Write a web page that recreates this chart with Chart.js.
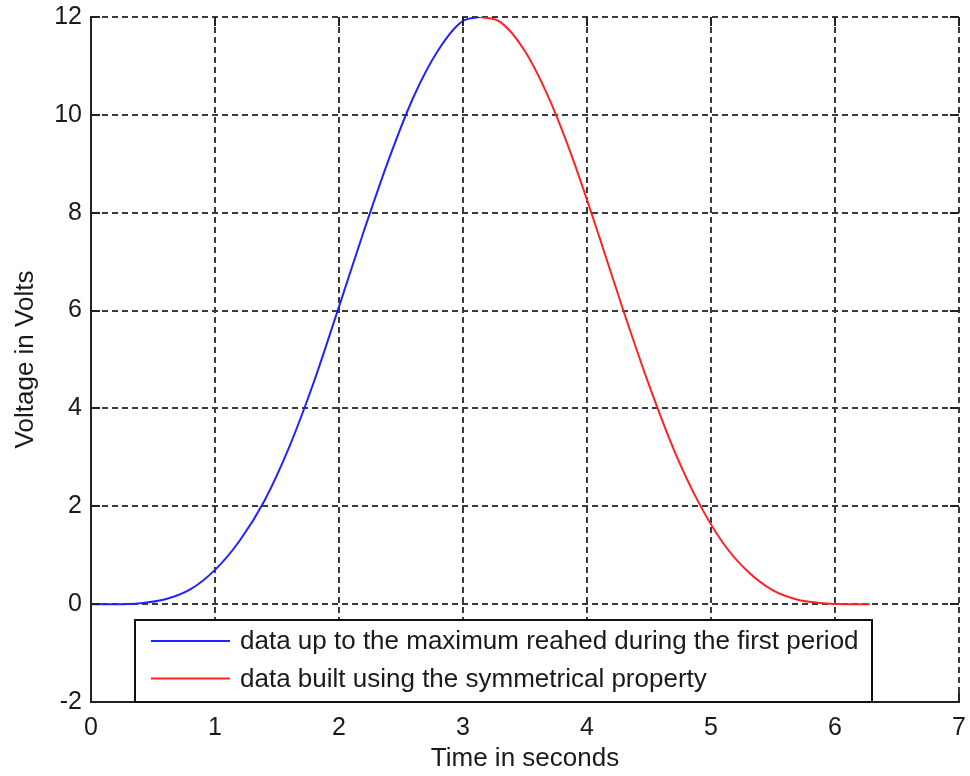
<!DOCTYPE html>
<html>
<head>
<meta charset="utf-8">
<script src="https://cdn.jsdelivr.net/npm/chart.js@4/dist/chart.umd.min.js"></script>
<style>
  html, body { margin: 0; padding: 0; background: #fff; }
  #wrap { width: 970px; height: 776px; }
</style>
</head>
<body>
<div id="wrap"><canvas id="chart" width="970" height="776"></canvas></div>
<script>
'use strict'

// values
const timeBlue = [0, 0.2, 0.4, 0.6, 0.8, 1.0, 1.2, 1.4, 1.6, 1.8, 2.0, 2.2, 2.4, 2.6, 2.8, 3.0, 3.14]
const voltBlue = [0, 0, 0.02, 0.1, 0.3, 0.7, 1.3, 2.12, 3.22, 4.56, 6.08, 7.62, 9.08, 10.36, 11.32, 11.92, 12]

const timeRed = [3.14, 3.3, 3.5, 3.7, 3.9, 4.1, 4.3, 4.5, 4.7, 4.9, 5.1, 5.3, 5.5, 5.7, 5.9, 6.1, 6.28]
const voltRed = [12, 11.9, 11.3, 10.3, 9.0, 7.5, 5.95, 4.48, 3.16, 2.08, 1.24, 0.66, 0.28, 0.09, 0.02, 0, 0]

const xTicks = [0, 1, 2, 3, 4, 5, 6, 7]
const yTicks = [-2, 0, 2, 4, 6, 8, 10, 12]

const labelBlue = 'data up to the maximum reahed during the first period'
const labelRed = 'data built using the symmetrical property'

const FONT = "'Liberation Sans', Arial, sans-serif"
const TEXT = '#1a1a1a'
const GRID = '#3a3a3a'

const toPoints = (xs, ys) => xs.map((x, i) => ({x: x, y: ys[i]}))

// inward tick marks on all four sides
const innerTicks = {
    id: 'innerTicks',
    afterDatasetsDraw(chart) {
        const {ctx, chartArea: a, scales} = chart
        ctx.save()
        ctx.strokeStyle = '#222'
        ctx.lineWidth = 2
        ctx.beginPath()
        for (const t of scales.x.ticks) {
            const px = Math.round(scales.x.getPixelForValue(t.value))
            ctx.moveTo(px, a.bottom); ctx.lineTo(px, a.bottom - 9)
            ctx.moveTo(px, a.top); ctx.lineTo(px, a.top + 9)
        }
        for (const t of scales.y.ticks) {
            const py = Math.round(scales.y.getPixelForValue(t.value))
            ctx.moveTo(a.left, py); ctx.lineTo(a.left + 9, py)
            ctx.moveTo(a.right, py); ctx.lineTo(a.right - 9, py)
        }
        ctx.stroke()
        ctx.restore()
    }
}

// boxed legend sitting inside the plot, bottom left
const boxLegend = {
    id: 'boxLegend',
    afterDraw(chart) {
        const {ctx, chartArea: a} = chart
        const sets = chart.data.datasets
        ctx.save()
        ctx.font = '26px ' + FONT
        const textW = Math.max(...sets.map(d => ctx.measureText(d.label).width))
        const left = Math.round(a.left + 44)
        const bottom = Math.round(a.bottom)
        const rowH = 37.5
        const w = Math.round(105 + textW + 13)
        const h = 82
        ctx.fillStyle = '#fff'
        ctx.fillRect(left, bottom - h, w, h)
        ctx.strokeStyle = '#111'
        ctx.lineWidth = 2
        ctx.strokeRect(left, bottom - h, w, h)
        sets.forEach((d, i) => {
            const y = bottom - h + 21 + i * rowH
            ctx.strokeStyle = d.borderColor
            ctx.lineWidth = 2
            ctx.beginPath()
            ctx.moveTo(left + 16, y); ctx.lineTo(left + 95, y)
            ctx.stroke()
            ctx.fillStyle = TEXT
            ctx.textBaseline = 'middle'
            ctx.fillText(d.label, left + 105, y + 1)
        })
        ctx.restore()
    }
}

const config = {
    type: 'line',
    data: {
        datasets: [
            {label: labelBlue, data: toPoints(timeBlue, voltBlue), borderColor: '#2222ff', borderWidth: 2, pointRadius: 0, cubicInterpolationMode: 'monotone', fill: false},
            {label: labelRed, data: toPoints(timeRed, voltRed), borderColor: '#ff2222', borderWidth: 2, pointRadius: 0, cubicInterpolationMode: 'monotone', fill: false}
        ]
    },
    options: {
        responsive: false,
        animation: false,
        layout: {padding: {top: 17, right: 11, left: 0, bottom: 0}},
        plugins: {legend: {display: false}, tooltip: {enabled: false}},
        scales: {
            x: {
                type: 'linear',
                min: 0, max: 7,
                afterBuildTicks: s => { s.ticks = xTicks.map(v => ({value: v})) },
                afterFit: s => { s.height = 74; s.paddingLeft = 0; s.paddingRight = 0 },
                grid: {color: GRID, lineWidth: 2, drawTicks: false},
                border: {display: true, color: '#222', width: 2, dash: [6, 4]},
                ticks: {color: TEXT, font: {family: FONT, size: 25}, padding: 11, maxRotation: 0},
                title: {display: true, text: 'Time in seconds', color: TEXT, font: {family: FONT, size: 26}, padding: {top: 0, bottom: 2}}
            },
            y: {
                type: 'linear',
                min: -2, max: 12,
                afterBuildTicks: s => { s.ticks = yTicks.map(v => ({value: v})) },
                afterFit: s => { s.width = 91; s.paddingTop = 0; s.paddingBottom = 0 },
                grid: {color: GRID, lineWidth: 2, drawTicks: false},
                border: {display: true, color: '#222', width: 2, dash: [6, 4]},
                ticks: {color: TEXT, font: {family: FONT, size: 25}, padding: 9},
                title: {display: true, text: 'Voltage in Volts', color: TEXT, font: {family: FONT, size: 26}, padding: {top: 10, bottom: 0}}
            }
        }
    },
    plugins: [innerTicks, boxLegend]
}

new Chart(document.getElementById('chart'), config)
</script>
</body>
</html>
